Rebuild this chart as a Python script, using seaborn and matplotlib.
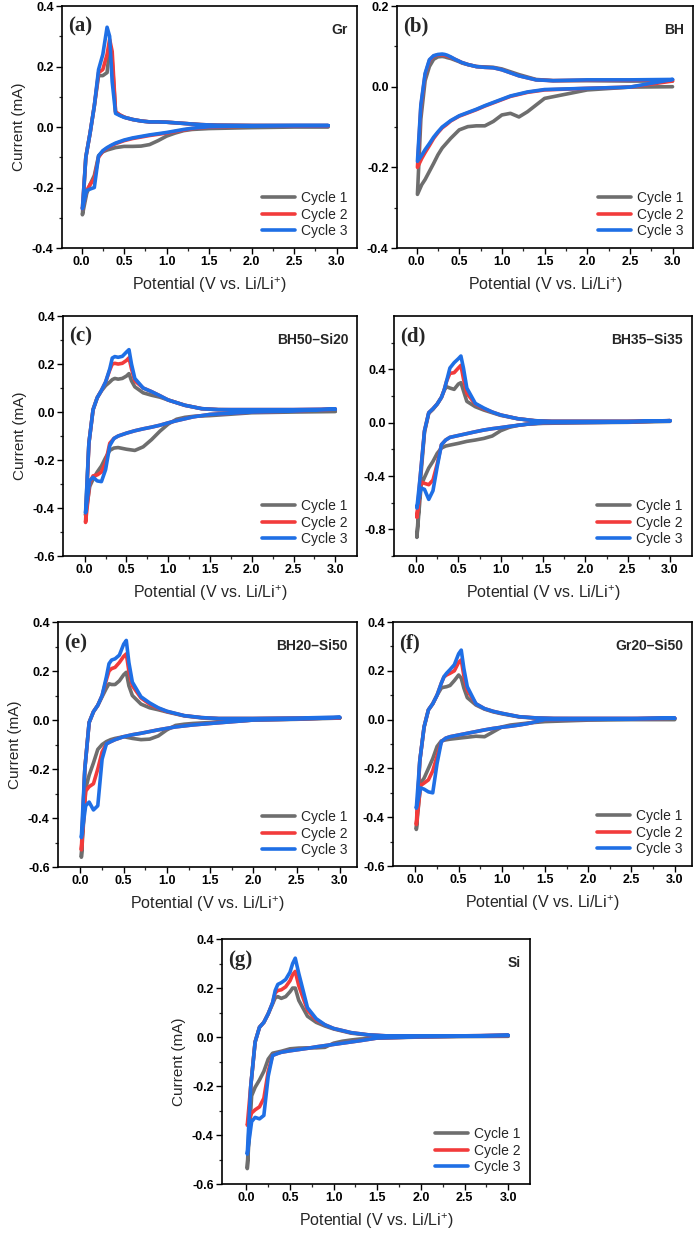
import numpy as np
import pandas as pd
import matplotlib
matplotlib.use("Agg")
import matplotlib.pyplot as plt
import seaborn as sns

sns.set_theme(style="white")
plt.rcParams['font.family'] = ['Liberation Sans', 'DejaVu Sans']
plt.rcParams['mathtext.default'] = 'regular'
plt.rcParams['axes.unicode_minus'] = False

CYCLES = ["Cycle 1", "Cycle 2", "Cycle 3"]
COLORS = ["#6e6e6e", "#f23b3b", "#1f6fe5"]

# potential grid (V) for the cathodic sweep (down) and anodic sweep (up)
CATH_V = [3.0, 2.5, 2.0, 1.5, 1.3, 1.2, 1.1, 1.0, 0.9, 0.8, 0.7, 0.6, 0.5, 0.4, 0.35, 0.3, 0.25, 0.2, 0.15, 0.1, 0.06, 0.01]
ANOD_V = [0.01, 0.05, 0.1, 0.15, 0.2, 0.25, 0.3, 0.33, 0.36, 0.4, 0.45, 0.5, 0.53, 0.56, 0.6, 0.7, 0.8, 0.9, 1.0, 1.2, 1.4, 1.6, 2.0, 2.5, 3.0]
# graphite cell was cycled only up to 2.9 V
GR_CATH_V = [2.9] + CATH_V[1:]
GR_ANOD_V = ANOD_V[:-1] + [2.9]

# current (mA), one list per cycle
gr_cath = [
    [0.0, 0.0, -0.002, -0.005, -0.008, -0.012, -0.02, -0.03, -0.045, -0.058, -0.063, -0.064, -0.064, -0.068, -0.072, -0.076, -0.082, -0.095, -0.16, -0.19, -0.22, -0.29],
    [0.004, 0.004, 0.003, 0.0, -0.005, -0.01, -0.015, -0.02, -0.024, -0.028, -0.033, -0.038, -0.045, -0.055, -0.062, -0.07, -0.08, -0.1, -0.17, -0.19, -0.21, -0.27],
    [0.005, 0.005, 0.004, 0.001, -0.004, -0.008, -0.013, -0.018, -0.022, -0.026, -0.031, -0.036, -0.043, -0.053, -0.06, -0.068, -0.078, -0.095, -0.2, -0.205, -0.21, -0.27],
]
gr_anod = [
    [-0.29, -0.1, -0.02, 0.07, 0.17, 0.17, 0.18, 0.26, 0.22, 0.05, 0.04, 0.033, 0.03, 0.028, 0.025, 0.02, 0.017, 0.017, 0.016, 0.012, 0.008, 0.006, 0.005, 0.004, 0.004],
    [-0.27, -0.1, -0.02, 0.07, 0.18, 0.19, 0.24, 0.29, 0.25, 0.05, 0.04, 0.033, 0.03, 0.028, 0.025, 0.02, 0.017, 0.017, 0.016, 0.012, 0.008, 0.006, 0.005, 0.005, 0.005],
    [-0.27, -0.1, -0.02, 0.07, 0.19, 0.24, 0.33, 0.3, 0.15, 0.045, 0.038, 0.032, 0.03, 0.028, 0.025, 0.02, 0.017, 0.017, 0.016, 0.012, 0.008, 0.006, 0.005, 0.005, 0.005],
]

bh_cath = [
    [0.0, -0.001, -0.008, -0.029, -0.062, -0.075, -0.066, -0.07, -0.086, -0.097, -0.097, -0.099, -0.107, -0.128, -0.14, -0.152, -0.169, -0.19, -0.21, -0.23, -0.243, -0.267],
    [0.014, -0.001, -0.004, -0.008, -0.014, -0.019, -0.024, -0.032, -0.04, -0.048, -0.057, -0.065, -0.073, -0.085, -0.094, -0.102, -0.114, -0.128, -0.146, -0.163, -0.178, -0.2],
    [0.018, -0.001, -0.004, -0.007, -0.013, -0.018, -0.023, -0.031, -0.039, -0.047, -0.056, -0.064, -0.072, -0.084, -0.092, -0.1, -0.112, -0.125, -0.141, -0.156, -0.17, -0.185],
]
bh_anod = [
    [-0.267, -0.08, 0.015, 0.05, 0.068, 0.074, 0.075, 0.074, 0.072, 0.07, 0.066, 0.062, 0.059, 0.057, 0.055, 0.05, 0.049, 0.048, 0.044, 0.03, 0.018, 0.015, 0.015, 0.014, 0.014],
    [-0.2, -0.05, 0.03, 0.065, 0.076, 0.079, 0.079, 0.078, 0.076, 0.073, 0.068, 0.063, 0.06, 0.058, 0.055, 0.05, 0.048, 0.047, 0.042, 0.027, 0.017, 0.015, 0.016, 0.016, 0.017],
    [-0.185, -0.045, 0.033, 0.067, 0.077, 0.08, 0.081, 0.08, 0.078, 0.074, 0.068, 0.063, 0.06, 0.058, 0.055, 0.05, 0.048, 0.047, 0.042, 0.027, 0.017, 0.015, 0.017, 0.017, 0.018],
]

bh50_cath = [
    [0.002, 0.0, -0.003, -0.015, -0.018, -0.022, -0.03, -0.05, -0.08, -0.115, -0.145, -0.16, -0.155, -0.148, -0.15, -0.16, -0.19, -0.225, -0.25, -0.28, -0.31, -0.43],
    [0.012, 0.004, 0.0, -0.01, -0.02, -0.028, -0.036, -0.045, -0.055, -0.063, -0.07, -0.078, -0.088, -0.1, -0.11, -0.13, -0.21, -0.25, -0.262, -0.266, -0.295, -0.46],
    [0.012, 0.004, 0.0, -0.01, -0.02, -0.028, -0.036, -0.045, -0.055, -0.063, -0.07, -0.078, -0.088, -0.1, -0.11, -0.14, -0.24, -0.29, -0.287, -0.272, -0.285, -0.42],
]
bh50_anod = [
    [-0.43, -0.13, 0.01, 0.06, 0.088, 0.11, 0.125, 0.135, 0.14, 0.137, 0.14, 0.15, 0.16, 0.13, 0.105, 0.08, 0.07, 0.062, 0.05, 0.028, 0.014, 0.01, 0.008, 0.007, 0.005],
    [-0.46, -0.13, 0.01, 0.06, 0.09, 0.125, 0.175, 0.2, 0.203, 0.2, 0.203, 0.215, 0.226, 0.18, 0.13, 0.1, 0.085, 0.068, 0.05, 0.028, 0.014, 0.01, 0.01, 0.01, 0.012],
    [-0.42, -0.13, 0.01, 0.06, 0.09, 0.125, 0.18, 0.225, 0.231, 0.228, 0.232, 0.25, 0.26, 0.2, 0.14, 0.1, 0.085, 0.068, 0.05, 0.028, 0.014, 0.01, 0.01, 0.01, 0.012],
]

bh35_cath = [
    [0.01, 0.003, 0.0, -0.005, -0.012, -0.02, -0.035, -0.06, -0.1, -0.118, -0.13, -0.14, -0.155, -0.168, -0.175, -0.19, -0.23, -0.29, -0.34, -0.41, -0.47, -0.86],
    [0.015, 0.005, 0.002, 0.0, -0.012, -0.02, -0.028, -0.037, -0.045, -0.055, -0.068, -0.082, -0.096, -0.11, -0.13, -0.165, -0.31, -0.43, -0.465, -0.455, -0.445, -0.71],
    [0.015, 0.005, 0.002, 0.0, -0.012, -0.02, -0.028, -0.037, -0.045, -0.055, -0.068, -0.082, -0.096, -0.11, -0.13, -0.165, -0.33, -0.51, -0.575, -0.5, -0.49, -0.64],
]
bh35_anod = [
    [-0.86, -0.45, -0.07, 0.07, 0.1, 0.14, 0.19, 0.24, 0.27, 0.26, 0.25, 0.29, 0.3, 0.24, 0.16, 0.12, 0.095, 0.075, 0.055, 0.03, 0.015, 0.01, 0.01, 0.01, 0.015],
    [-0.71, -0.4, -0.06, 0.075, 0.105, 0.14, 0.19, 0.24, 0.31, 0.37, 0.375, 0.41, 0.43, 0.33, 0.22, 0.14, 0.105, 0.08, 0.058, 0.03, 0.015, 0.01, 0.01, 0.01, 0.015],
    [-0.64, -0.4, -0.06, 0.075, 0.105, 0.14, 0.19, 0.24, 0.31, 0.41, 0.45, 0.48, 0.5, 0.41, 0.26, 0.145, 0.11, 0.08, 0.058, 0.03, 0.015, 0.01, 0.01, 0.01, 0.015],
]

bh20_cath = [
    [0.008, 0.003, 0.0, -0.01, -0.014, -0.017, -0.022, -0.04, -0.065, -0.078, -0.08, -0.075, -0.068, -0.075, -0.08, -0.088, -0.1, -0.12, -0.175, -0.225, -0.28, -0.56],
    [0.01, 0.004, 0.0, -0.014, -0.02, -0.024, -0.028, -0.034, -0.04, -0.047, -0.054, -0.06, -0.068, -0.08, -0.088, -0.097, -0.13, -0.2, -0.26, -0.272, -0.29, -0.53],
    [0.01, 0.004, 0.0, -0.014, -0.02, -0.024, -0.028, -0.034, -0.04, -0.047, -0.054, -0.06, -0.068, -0.08, -0.088, -0.097, -0.16, -0.35, -0.367, -0.335, -0.35, -0.48],
]
bh20_anod = [
    [-0.56, -0.2, -0.01, 0.034, 0.06, 0.095, 0.13, 0.148, 0.145, 0.145, 0.16, 0.185, 0.195, 0.14, 0.1, 0.065, 0.05, 0.042, 0.033, 0.017, 0.009, 0.006, 0.006, 0.007, 0.008],
    [-0.53, -0.2, -0.01, 0.034, 0.06, 0.1, 0.165, 0.2, 0.21, 0.215, 0.235, 0.26, 0.27, 0.2, 0.14, 0.09, 0.065, 0.048, 0.035, 0.018, 0.01, 0.006, 0.006, 0.008, 0.01],
    [-0.48, -0.2, -0.01, 0.034, 0.06, 0.1, 0.177, 0.23, 0.245, 0.25, 0.265, 0.31, 0.325, 0.235, 0.155, 0.095, 0.07, 0.05, 0.036, 0.018, 0.01, 0.006, 0.006, 0.008, 0.012],
]

gr20_cath = [
    [0.0, 0.0, -0.002, -0.008, -0.014, -0.018, -0.022, -0.03, -0.05, -0.07, -0.068, -0.072, -0.076, -0.08, -0.083, -0.087, -0.11, -0.16, -0.2, -0.24, -0.26, -0.45],
    [0.006, 0.003, 0.001, 0.0, -0.016, -0.022, -0.027, -0.031, -0.036, -0.042, -0.049, -0.056, -0.063, -0.07, -0.076, -0.09, -0.15, -0.21, -0.247, -0.26, -0.27, -0.43],
    [0.006, 0.003, 0.001, 0.0, -0.016, -0.022, -0.027, -0.031, -0.036, -0.042, -0.049, -0.056, -0.063, -0.07, -0.076, -0.09, -0.18, -0.3, -0.296, -0.285, -0.28, -0.363],
]
gr20_anod = [
    [-0.45, -0.17, -0.03, 0.04, 0.065, 0.1, 0.13, 0.133, 0.135, 0.14, 0.16, 0.183, 0.17, 0.13, 0.09, 0.06, 0.043, 0.032, 0.024, 0.011, 0.006, 0.004, 0.003, 0.003, 0.003],
    [-0.43, -0.17, -0.03, 0.04, 0.065, 0.1, 0.15, 0.175, 0.183, 0.19, 0.2, 0.235, 0.245, 0.18, 0.12, 0.065, 0.045, 0.034, 0.026, 0.012, 0.007, 0.005, 0.005, 0.005, 0.006],
    [-0.363, -0.17, -0.03, 0.04, 0.065, 0.1, 0.15, 0.176, 0.19, 0.205, 0.225, 0.27, 0.285, 0.21, 0.135, 0.065, 0.045, 0.034, 0.026, 0.012, 0.007, 0.005, 0.005, 0.005, 0.006],
]

si_cath = [
    [0.003, 0.002, 0.0, -0.004, -0.008, -0.012, -0.017, -0.025, -0.042, -0.044, -0.044, -0.045, -0.048, -0.058, -0.062, -0.066, -0.09, -0.14, -0.175, -0.205, -0.24, -0.537],
    [0.007, 0.004, 0.001, -0.004, -0.015, -0.02, -0.025, -0.03, -0.035, -0.04, -0.046, -0.051, -0.056, -0.062, -0.068, -0.075, -0.14, -0.25, -0.285, -0.297, -0.31, -0.36],
    [0.007, 0.004, 0.001, -0.004, -0.015, -0.02, -0.025, -0.03, -0.035, -0.04, -0.046, -0.051, -0.056, -0.062, -0.068, -0.075, -0.16, -0.32, -0.334, -0.328, -0.345, -0.478],
]
si_anod = [
    [-0.537, -0.2, -0.02, 0.04, 0.06, 0.095, 0.135, 0.16, 0.165, 0.158, 0.165, 0.185, 0.2, 0.2, 0.15, 0.085, 0.06, 0.045, 0.033, 0.016, 0.008, 0.004, 0.004, 0.004, 0.005],
    [-0.36, -0.2, -0.02, 0.04, 0.06, 0.095, 0.14, 0.18, 0.19, 0.193, 0.205, 0.23, 0.255, 0.268, 0.21, 0.11, 0.07, 0.05, 0.035, 0.018, 0.009, 0.005, 0.005, 0.005, 0.007],
    [-0.478, -0.2, -0.02, 0.04, 0.06, 0.095, 0.14, 0.19, 0.215, 0.222, 0.235, 0.265, 0.3, 0.322, 0.26, 0.12, 0.075, 0.05, 0.035, 0.018, 0.009, 0.005, 0.005, 0.005, 0.007],
]


def loop_frame(cath_v, anod_v, cath, anod):
    # one closed CV loop per cycle: cathodic sweep followed by anodic sweep
    parts = []
    for name, c, a in zip(CYCLES, cath, anod):
        parts.append(pd.DataFrame({"V": cath_v + anod_v, "I": c + a, "Cycle": name}))
    return pd.concat(parts, ignore_index=True)


def fmt(t):
    return f"{t:.1f}"


def draw_panel(fig, rect, df, tag, name, ylim, yticks, yminor, xlim, ylabel):
    ax = fig.add_axes(rect)
    sns.lineplot(data=df, x="V", y="I", hue="Cycle", palette=COLORS, sort=False,
                 estimator=None, linewidth=2.6, ax=ax, solid_joinstyle="round",
                 solid_capstyle="round")
    ax.set_xlim(*xlim)
    ax.set_ylim(*ylim)
    xt = [0.0, 0.5, 1.0, 1.5, 2.0, 2.5, 3.0]
    ax.set_xticks(xt, [fmt(t) for t in xt], fontweight="bold", fontsize=9)
    ax.set_xticks([0.25, 0.75, 1.25, 1.75, 2.25, 2.75], minor=True)
    ax.set_yticks(yticks, [fmt(t) for t in yticks], fontweight="bold", fontsize=9)
    ax.set_yticks(yminor, minor=True)
    ax.tick_params(which="major", direction="out", length=4, width=1,
                   bottom=True, left=True, top=False, right=False, pad=2, colors="black")
    ax.tick_params(which="minor", direction="out", length=2.5, width=0.9,
                   bottom=True, left=True, top=False, right=False)
    for s in ax.spines.values():
        s.set_color("black")
        s.set_linewidth(1.2)
    ax.set_xlabel("Potential (V vs. Li/Li$^{+}$)", fontsize=11.5, labelpad=5)
    ax.set_ylabel("Current (mA)" if ylabel else "", fontsize=11)
    ax.text(0.02, 0.955, tag, transform=ax.transAxes, va="top", ha="left",
            family=["Liberation Serif"], fontweight="bold", fontsize=15)
    ax.text(0.97, 0.93, name, transform=ax.transAxes, va="top", ha="right",
            fontweight="bold", fontsize=10)
    ax.legend(loc="lower right", frameon=False, fontsize=10, handlelength=2.4,
              labelspacing=0.2, borderaxespad=0.3, handletextpad=0.4)
    return ax


fig = plt.figure(figsize=(7, 12.34), dpi=100)

row1 = (-0.23, 3.24)
row2 = (-0.26, 3.26)
row3 = (-0.26, 3.2)
row4 = (-0.28, 3.25)

draw_panel(fig, [0.0886, 0.7990, 0.4214, 0.1961], loop_frame(GR_CATH_V, GR_ANOD_V, gr_cath, gr_anod),
           "(a)", "Gr", (-0.4, 0.4), [-0.4, -0.2, 0.0, 0.2, 0.4], [-0.3, -0.1, 0.1, 0.3], row1, True)
draw_panel(fig, [0.5671, 0.7990, 0.4229, 0.1961], loop_frame(CATH_V, ANOD_V, bh_cath, bh_anod),
           "(b)", "BH", (-0.4, 0.2), [-0.4, -0.2, 0.0, 0.2], [-0.3, -0.1, 0.1], row1, False)
draw_panel(fig, [0.0900, 0.5494, 0.4200, 0.1945], loop_frame(CATH_V, ANOD_V, bh50_cath, bh50_anod),
           "(c)", "BH50\u2013Si20", (-0.6, 0.4), [-0.6, -0.4, -0.2, 0.0, 0.2, 0.4],
           [-0.5, -0.3, -0.1, 0.1, 0.3], row2, True)
draw_panel(fig, [0.5629, 0.5494, 0.4257, 0.1945], loop_frame(CATH_V, ANOD_V, bh35_cath, bh35_anod),
           "(d)", "BH35\u2013Si35", (-1.0, 0.8), [-0.8, -0.4, 0.0, 0.4],
           [-1.0, -0.6, -0.2, 0.2, 0.6], row2, False)
draw_panel(fig, [0.0829, 0.2974, 0.4271, 0.1985], loop_frame(CATH_V, ANOD_V, bh20_cath, bh20_anod),
           "(e)", "BH20\u2013Si50", (-0.6, 0.4), [-0.6, -0.4, -0.2, 0.0, 0.2, 0.4],
           [-0.5, -0.3, -0.1, 0.1, 0.3], row3, True)
draw_panel(fig, [0.5614, 0.2982, 0.4271, 0.1977], loop_frame(CATH_V, ANOD_V, gr20_cath, gr20_anod),
           "(f)", "Gr20\u2013Si50", (-0.6, 0.4), [-0.6, -0.4, -0.2, 0.0, 0.2, 0.4],
           [-0.5, -0.3, -0.1, 0.1, 0.3], row3, False)
draw_panel(fig, [0.3171, 0.0405, 0.4400, 0.1985], loop_frame(CATH_V, ANOD_V, si_cath, si_anod),
           "(g)", "Si", (-0.6, 0.4), [-0.6, -0.4, -0.2, 0.0, 0.2, 0.4],
           [-0.5, -0.3, -0.1, 0.1, 0.3], row4, True)

fig.savefig("out.png", dpi=100, facecolor="white")
